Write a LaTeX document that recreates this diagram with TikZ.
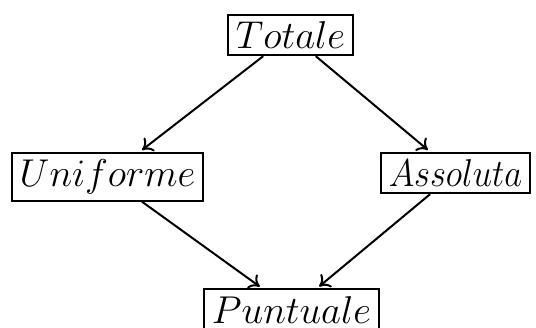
\RequirePackage{fix-cm}
\documentclass[tikz,border=0pt]{standalone}
\usetikzlibrary{arrows.meta}
\begin{document}
\begin{tikzpicture}[x=1pt,y=1pt,
  box/.style={draw, line width=1pt, inner xsep=4pt, inner ysep=3.33pt, anchor=base,
    font=\fontsize{19.4}{23}\selectfont},
  conn/.style={line width=1pt, shorten >=1.5pt, -{To[length=5pt,width=8.5pt]}}]
\useasboundingbox (0,0) rectangle (268,-163.5);
\node[box] (tot) at (145.25,-24.25) {$Totale$};
\node[box] (uni) at (53.75,-93.25) {$Uniforme$};
\node[box] (ass) at (227.75,-93.25) {\scalebox{0.89}[1]{$Assoluta$}};
\node[box] (pun) at (145.75,-161.5) {$Puntuale$};
\draw[conn] (tot) -- (uni);
\draw[conn] (tot) -- (ass);
\draw[conn] (uni) -- (pun);
\draw[conn] (ass) -- (pun);
\end{tikzpicture}
\end{document}
